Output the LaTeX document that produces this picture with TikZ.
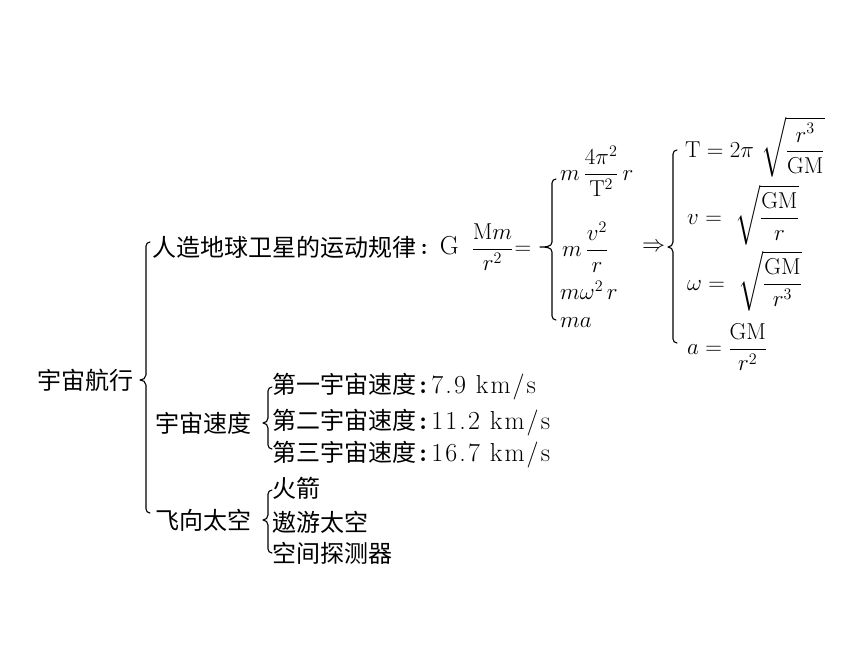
\RequirePackage{fix-cm}
\documentclass[tikz,border=0pt]{standalone}
\usepackage{fontspec}
\usepackage{amsmath}
\newfontfamily\cjk{Noto Sans CJK SC}
\newfontfamily\ltf{Latin Modern Roman}[LetterSpace=8]
\usetikzlibrary{calc}
\newcommand\lt[1]{{\ltf\fontsize{26}{28}\selectfont #1}}
\newcommand\brc[7]{%
 \draw[brcline] let \p1=(#1.east), \p2=($(#2.west)+(-#4,0)$), \p3=(#3.west) in
 (\x2+4pt,\y2+#5) to[out=180,in=90] (\x2,\y2+#5-4pt) -- (\x2,\y1+5pt)
 to[out=-90,in=0] (\x2-#7,\y1) to[out=0,in=90] (\x2,\y1-5pt)
 -- (\x2,\y3+#6+4pt) to[out=-90,in=180] (\x2+4pt,\y3+#6);}
\begin{document}
\begin{tikzpicture}[x=1pt,y=-1pt,
  every node/.style={inner sep=0pt,anchor=west},
  cn/.style={font=\fontsize{24}{28}\selectfont\cjk},
  mt/.style={font=\fontsize{23}{27}\selectfont},
  brcline/.style={line width=1.1pt,line join=round,line cap=round}]
\useasboundingbox (0,0) rectangle (861,654);
% level 1
\node[cn] (root) at (37,380) {宇宙航行};
% level 2
\node[cn] (sat) at (152,247) {人造地球卫星的运动规律};
\node[mt] (satf) at ([xshift=4pt]sat.east) {{\bfseries :}\hspace{12pt}{\fontsize{26}{28}\selectfont G}\hspace{13pt}$\dfrac{\mathrm{M}m}{r^{2}}\mkern1mu{=}$};
\node[cn] (spd) at (155,423) {宇宙速度};
\node[cn] (fly) at (155,520) {飞向太空};
% speeds
\node[cn] (s1) at (272,387) {第一宇宙速度\lt{\hspace{3pt}\textbf{:}\hspace{2pt}7.9 km/s}};
\node[cn] (s2) at (272,423) {第二宇宙速度\lt{\hspace{3pt}\textbf{:}\hspace{2pt}11.2 km/s}};
\node[cn] (s3) at (272,455) {第三宇宙速度\lt{\hspace{3pt}\textbf{:}\hspace{2pt}16.7 km/s}};
% flying
\node[cn] (f1) at (272,488) {火箭};
\node[cn] (f2) at (272,522) {遨游太空};
\node[cn] (f3) at (272,553) {空间探测器};
% force forms
\node[mt] (m1) at (560,171) {$m\,\dfrac{4\pi^{2}}{\mathrm{T}^{2}}\,r$};
\node[mt] (m2) at (562,247) {$m\,\dfrac{v^{2}}{r}$};
\node[mt] (m3) at (560,290) {$m\omega^{2}\,r$};
\node[mt] (m4) at (560,323) {$ma$};
\node[mt] (imp) at (642,247) {$\Rightarrow$};
% results
\node[mt] (r1) at (685,147) {$\mathrm{T}=2\pi\ \sqrt{\dfrac{r^{3}}{\mathrm{GM}}}$};
\node[mt] (r2) at (687,215) {$v=\ \sqrt{\dfrac{\mathrm{GM}}{r}}$};
\node[mt] (r3) at (687,281) {$\omega=\ \sqrt{\dfrac{\mathrm{GM}}{r^{3}}}$};
\node[mt] (r4) at (687,347) {$a=\dfrac{\mathrm{GM}}{r^{2}}$};
% braces
\brc{root}{sat}{fly}{6}{5pt}{7pt}{6pt}
\brc{spd}{s1}{s3}{4}{0pt}{6pt}{5pt}
\brc{fly}{f1}{f3}{4}{-2pt}{0pt}{5pt}
\brc{satf}{m1}{m4}{8}{-8pt}{3pt}{12pt}
\brc{imp}{r1}{r4}{12}{-3pt}{4pt}{5pt}
\end{tikzpicture}
\end{document}
